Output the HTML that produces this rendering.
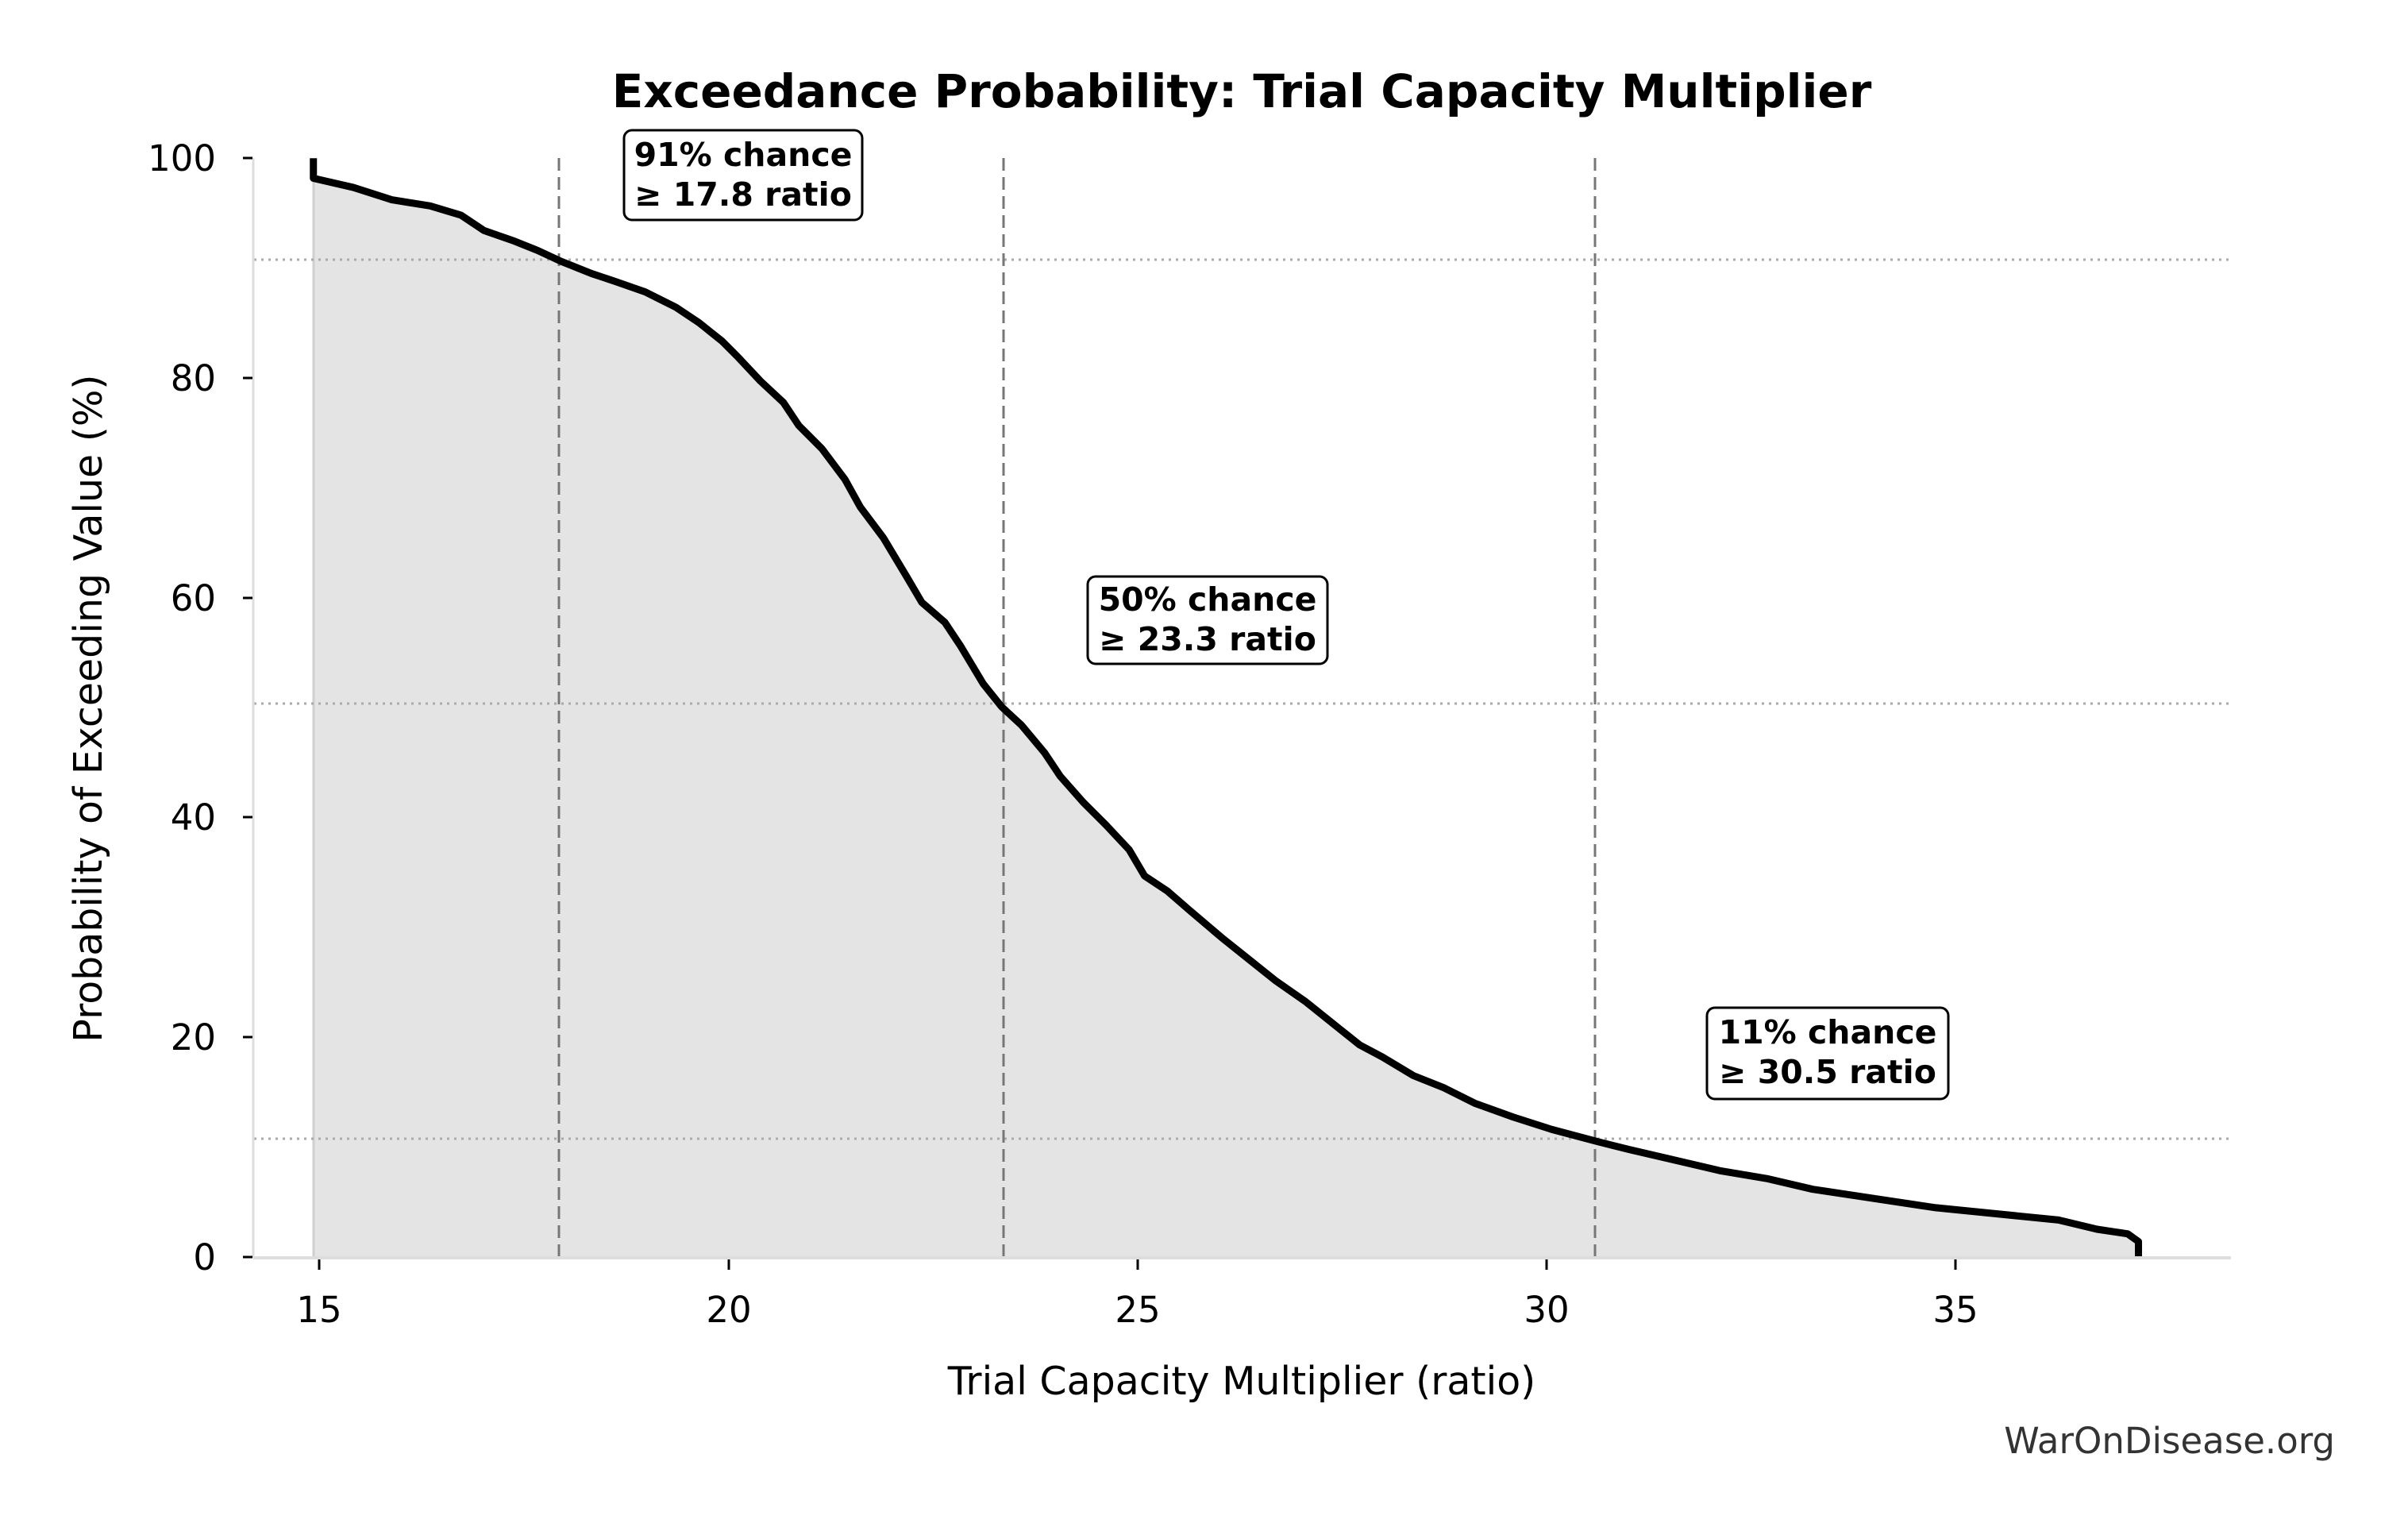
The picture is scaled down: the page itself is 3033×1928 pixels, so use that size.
<!DOCTYPE html>
<html><head><meta charset="utf-8"><style>
html,body{margin:0;padding:0;background:#fff;}
svg{display:block;font-family:"DejaVu Sans","Liberation Sans",sans-serif;}
</style></head><body>
<svg width="3033" height="1928" viewBox="0 0 3033 1928" xmlns="http://www.w3.org/2000/svg">
<rect width="3033" height="1928" fill="#fff"/>
<g transform="matrix(1.935 0 0 1.935 0 0)">
<path d="M204,103 L204,116 L230,122 L255,130 L280,134 L300,140 L315,150 L335,157 L350,163 L365,170 L385,178 L400,183 L420,190 L440,200 L455,210 L470,222 L480,232 L495,248 L510,262 L520,277 L535,292 L550,312 L560,330 L575,350 L590,375 L600,392 L615,405 L625,420 L640,445 L652,460 L665,472 L680,490 L690,505 L705,522 L720,537 L735,553 L745,570 L760,580 L775,593 L795,610 L810,622 L830,638 L850,652 L870,668 L885,680 L900,688 L920,700 L940,708 L960,718 L985,727 L1010,735 L1040,743 L1060,748 L1090,755 L1120,762 L1150,767 L1180,774 L1220,780 L1260,786 L1300,790 L1340,794 L1365,800 L1385,803 L1392,808 L1392,818 L204,818 Z" fill="#e4e4e4" stroke="none"/>
</g>
<line x1="395" y1="215" x2="395" y2="1583" stroke="#cfcfcf" stroke-width="3"/>
<g stroke="#aaa" stroke-width="3" stroke-dasharray="3,6">
<line x1="320" y1="327" x2="2810" y2="327"/>
<line x1="320" y1="886" x2="2810" y2="886"/>
<line x1="320" y1="1434" x2="2810" y2="1434"/>
</g>
<g stroke="#777" stroke-width="3" stroke-dasharray="16,8">
<line x1="704" y1="199" x2="704" y2="1583"/>
<line x1="1264" y1="199" x2="1264" y2="1583"/>
<line x1="2009" y1="199" x2="2009" y2="1583"/>
</g>
<g transform="matrix(1.935 0 0 1.935 0 0)">
<path d="M204,103 L204,116 L230,122 L255,130 L280,134 L300,140 L315,150 L335,157 L350,163 L365,170 L385,178 L400,183 L420,190 L440,200 L455,210 L470,222 L480,232 L495,248 L510,262 L520,277 L535,292 L550,312 L560,330 L575,350 L590,375 L600,392 L615,405 L625,420 L640,445 L652,460 L665,472 L680,490 L690,505 L705,522 L720,537 L735,553 L745,570 L760,580 L775,593 L795,610 L810,622 L830,638 L850,652 L870,668 L885,680 L900,688 L920,700 L940,708 L960,718 L985,727 L1010,735 L1040,743 L1060,748 L1090,755 L1120,762 L1150,767 L1180,774 L1220,780 L1260,786 L1300,790 L1340,794 L1365,800 L1385,803 L1392,808 L1392,818" fill="none" stroke="#000" stroke-width="9" stroke-linejoin="round" vector-effect="non-scaling-stroke"/>
</g>
<line x1="319" y1="199" x2="319" y2="1584" stroke="#ddd" stroke-width="3"/>
<line x1="319" y1="1584" x2="2810" y2="1584" stroke="#ddd" stroke-width="4"/>
<g stroke="#000" stroke-width="3">
<line x1="306" y1="199" x2="318" y2="199"/><line x1="306" y1="476" x2="318" y2="476"/>
<line x1="306" y1="753" x2="318" y2="753"/><line x1="306" y1="1029" x2="318" y2="1029"/>
<line x1="306" y1="1306" x2="318" y2="1306"/><line x1="306" y1="1583" x2="318" y2="1583"/>
<line x1="402" y1="1586" x2="402" y2="1599"/><line x1="918" y1="1586" x2="918" y2="1599"/>
<line x1="1433" y1="1586" x2="1433" y2="1599"/><line x1="1948" y1="1586" x2="1948" y2="1599"/>
<line x1="2463" y1="1586" x2="2463" y2="1599"/>
</g>
<g font-size="45" fill="#000" text-anchor="end">
<text x="272" y="215">100</text><text x="272" y="492">80</text><text x="272" y="769">60</text>
<text x="272" y="1045">40</text><text x="272" y="1322">20</text><text x="272" y="1599">0</text>
</g>
<g font-size="45" fill="#000" text-anchor="middle">
<text x="402" y="1665">15</text><text x="918" y="1665">20</text><text x="1433" y="1665">25</text>
<text x="1948" y="1665">30</text><text x="2463" y="1665">35</text>
</g>
<text x="1564" y="1756" font-size="49" text-anchor="middle">Trial Capacity Multiplier (ratio)</text>
<text transform="translate(128,892) rotate(-90)" font-size="49" text-anchor="middle">Probability of Exceeding Value (%)</text>
<text x="1564" y="135" font-size="58" font-weight="bold" text-anchor="middle">Exceedance Probability: Trial Capacity Multiplier</text>
<text x="2941" y="1830" font-size="45" fill="#333" text-anchor="end">WarOnDisease.org</text>
<g font-size="41" font-weight="bold" fill="#000" text-anchor="middle">
<rect x="786" y="164" width="300" height="113" rx="10" fill="#fff" stroke="#000" stroke-width="3"/>
<text x="936" y="209">91% chance</text><text x="936" y="259">≥ 17.8 ratio</text>
<rect x="1370" y="726" width="302" height="110" rx="10" fill="#fff" stroke="#000" stroke-width="3"/>
<text x="1521" y="769">50% chance</text><text x="1521" y="819">≥ 23.3 ratio</text>
<rect x="2150" y="1269" width="304" height="115" rx="10" fill="#fff" stroke="#000" stroke-width="3"/>
<text x="2302" y="1314">11% chance</text><text x="2302" y="1364">≥ 30.5 ratio</text>
</g>
</svg>
</body></html>
